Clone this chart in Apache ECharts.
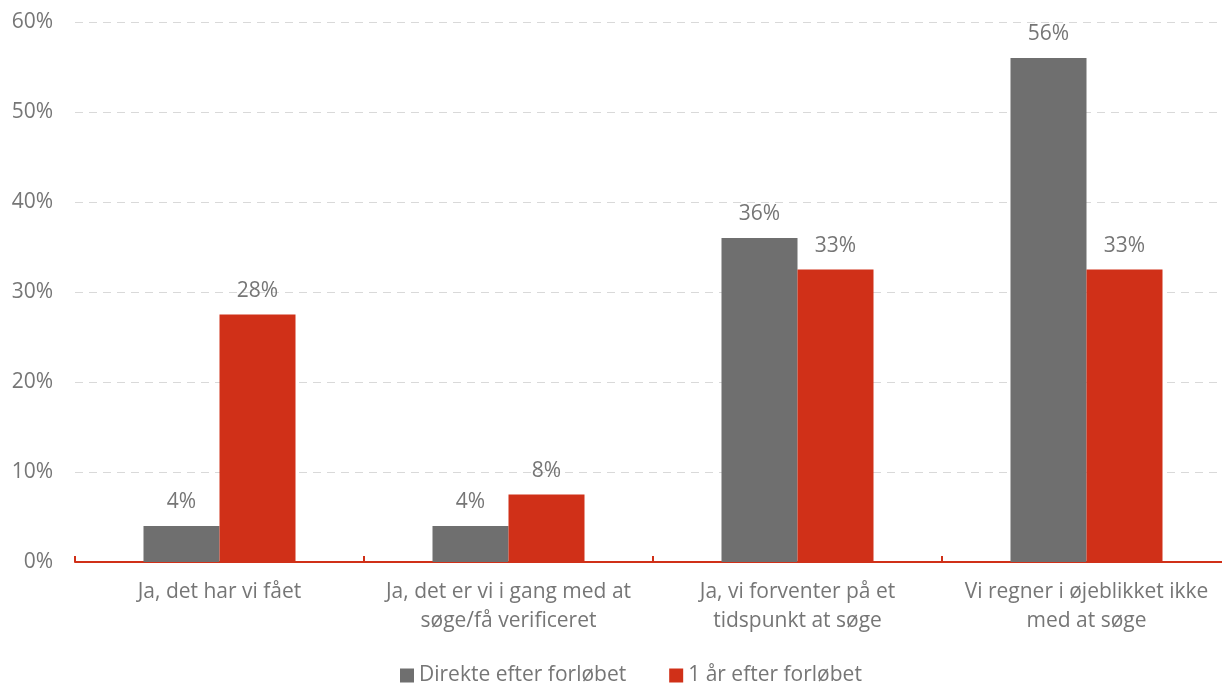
<!DOCTYPE html>
<html>
<head>
<meta charset="utf-8">
<script src="https://cdn.jsdelivr.net/npm/echarts@6/dist/echarts.min.js"></script>
<style>
html,body{margin:0;padding:0;background:#fff;overflow:hidden;}
#chart{width:1231px;height:686px;}
</style>
</head>
<body>
<div id="chart"></div>
<script>
// Survey answers and shares (%) at two points in time
var categories = [
  'Ja, det har vi fået',
  'Ja, det er vi i gang med at\nsøge/få verificeret',
  'Ja, vi forventer på et\ntidspunkt at søge',
  'Vi regner i øjeblikket ikke\nmed at søge'
];
var seriesNames = ['Direkte efter forløbet', '1 år efter forløbet'];
var direkte = [4, 4, 36, 56];
var etAar = [27.5, 7.5, 32.5, 32.5];

var textColor = '#767676';
var fontFamily = 'Open Sans, Noto Sans, sans-serif';
var fontSize = 21;

var chart = echarts.init(document.getElementById('chart'), null, {renderer: 'canvas'});

function barSeries(name, data, color) {
  return {
    name: name,
    type: 'bar',
    data: data,
    barWidth: 76,
    barGap: '0%',
    itemStyle: {color: color},
    label: {
      show: true,
      position: 'top',
      distance: 13,
      color: textColor,
      fontFamily: fontFamily,
      fontSize: fontSize,
      formatter: function (p) { return Math.round(p.value) + '%'; }
    }
  };
}

chart.setOption({
  animation: false,
  textStyle: {fontFamily: fontFamily},
  legend: {
    top: 665,
    left: 400,
    padding: 0,
    itemWidth: 14,
    itemHeight: 14,
    itemGap: 43,
    icon: 'rect',
    textStyle: {color: textColor, fontSize: fontSize, fontFamily: fontFamily},
    data: seriesNames
  },
  grid: {left: 75, right: 0, top: 22, bottom: 124},
  xAxis: {
    type: 'category',
    data: categories,
    axisLine: {lineStyle: {color: '#d03018', width: 2}},
    axisTick: {show: true, interval: 0, inside: true, length: 6, lineStyle: {color: '#d03018', width: 2}},
    axisLabel: {interval: 0, color: textColor, fontSize: fontSize, lineHeight: 29, margin: 16, fontFamily: fontFamily}
  },
  yAxis: {
    type: 'value',
    min: 0,
    max: 60,
    interval: 10,
    axisLine: {show: false},
    axisTick: {show: false},
    axisLabel: {color: textColor, fontSize: fontSize, margin: 22, fontFamily: fontFamily,
      formatter: function (v) { return v + '%'; }},
    splitLine: {lineStyle: {color: '#d9d9d9', type: [8, 6], width: 1}}
  },
  series: [
    barSeries(seriesNames[0], direkte, '#6f6f6f'),
    barSeries(seriesNames[1], etAar, '#d03018')
  ]
});
</script>
</body>
</html>
